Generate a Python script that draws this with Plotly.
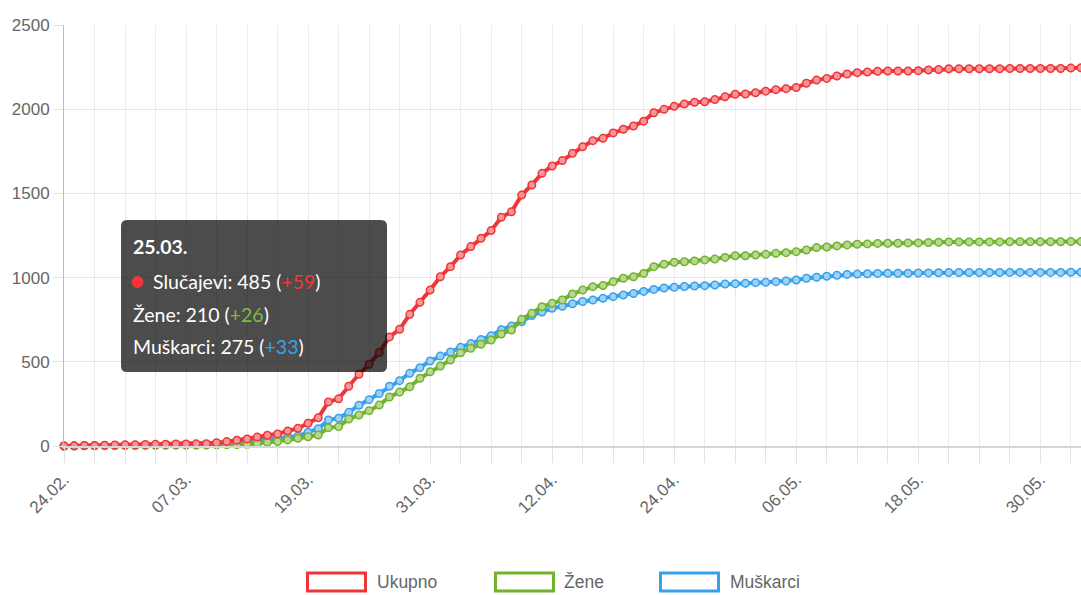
import plotly.graph_objects as go
import pandas as pd

# ---- data ----
dates = pd.date_range("2020-02-24", "2020-06-03", freq="D")

ukupno = [0, 1, 3, 3, 5, 6, 7, 7, 9, 10, 11, 12, 12, 13,
          14, 19, 26, 34, 42, 53, 64, 72, 89, 105, 135, 168, 262, 280, 355, 426, 485,
          555, 648, 693, 782, 853, 926, 1005, 1065, 1134, 1184, 1233, 1279, 1358, 1391, 1490, 1550, 1619, 1663, 1695, 1738,
          1777, 1813, 1827, 1859, 1881, 1900, 1929, 1979, 1999, 2017, 2031, 2041, 2044, 2057, 2074, 2089, 2090, 2098, 2107, 2116,
          2122, 2129, 2154, 2173, 2183, 2197, 2209, 2217, 2221, 2225, 2227, 2227, 2227, 2229, 2233, 2236, 2240, 2240, 2240, 2240,
          2240, 2240, 2242, 2242, 2242, 2242, 2242, 2242, 2244, 2246]

zene = [0, 0, 1, 1, 2, 3, 3, 3, 4, 4, 5, 5, 5, 6,
        6, 7, 8, 9, 10, 15, 22, 26, 36, 46, 55, 65, 109, 115, 160, 184, 210,
        243, 291, 320, 352, 402, 441, 475, 511, 554, 580, 604, 629, 665, 689, 752, 788, 827, 847, 867, 903,
        926, 946, 953, 976, 996, 1005, 1025, 1065, 1079, 1091, 1094, 1099, 1105, 1110, 1120, 1130, 1130, 1134, 1138, 1144,
        1148, 1154, 1164, 1178, 1182, 1188, 1194, 1198, 1200, 1203, 1204, 1204, 1206, 1206, 1208, 1210, 1212, 1212, 1212, 1212,
        1212, 1212, 1213, 1213, 1213, 1213, 1213, 1213, 1214, 1214]

muskarci = [0, 1, 2, 2, 3, 3, 4, 4, 5, 6, 6, 7, 7, 7,
            8, 12, 18, 25, 32, 38, 42, 46, 53, 59, 82, 103, 155, 165, 200, 242, 275,
            312, 355, 388, 432, 465, 505, 534, 558, 586, 608, 632, 655, 690, 712, 738, 775, 796, 818, 830, 845,
            858, 867, 877, 887, 897, 905, 918, 930, 938, 943, 947, 950, 952, 956, 962, 964, 966, 970, 972, 976,
            980, 986, 996, 1002, 1008, 1014, 1019, 1021, 1023, 1025, 1026, 1026, 1026, 1027, 1028, 1029, 1030, 1030, 1030, 1030,
            1030, 1030, 1031, 1031, 1031, 1031, 1031, 1031, 1032, 1032]

series_names = ["Ukupno", "Žene", "Muškarci"]

tooltip_title = "25.03."
tooltip_total = ("Slučajevi", 485, 59)
tooltip_zene = ("Žene", 210, 26)
tooltip_musk = ("Muškarci", 275, 33)

# ---- style ----
RED = "rgb(240,52,56)"
GREEN = "rgb(114,178,46)"
BLUE = "rgb(54,162,235)"
RED_F = "rgb(247,150,152)"
GREEN_F = "rgb(182,216,146)"
BLUE_F = "rgb(160,208,245)"

W, H = 1081, 595
L, R, T, B = 64, 0, 25, 149
PW, PH = W - L - R, H - T - B


def px(x):
    return (x - L) / PW


def py(y):
    return (H - B - y) / PH


fig = go.Figure()
for vals, name, col, fcol in [(muskarci, series_names[2], BLUE, BLUE_F),
                              (zene, series_names[1], GREEN, GREEN_F),
                              (ukupno, series_names[0], RED, RED_F)]:
    fig.add_trace(go.Scatter(
        x=dates, y=vals, name=name, mode="lines+markers",
        line=dict(color=col, width=4),
        marker=dict(size=7.5, color=fcol, line=dict(color=col, width=1.5)),
        cliponaxis=False, showlegend=False))

tick_font = dict(family="Liberation Sans, Arial, sans-serif", size=17, color="#666666")

fig.update_layout(
    width=W, height=H, margin=dict(l=L, r=R, t=T, b=B, pad=0),
    paper_bgcolor="white", plot_bgcolor="white",
    xaxis=dict(
        type="date", range=[dates[0], dates[-1]],
        tick0="2020-02-24", dtick=12 * 86400000, tickformat="%d.%m.",
        tickangle=-45, tickfont=tick_font,
        ticks="outside", ticklen=15, tickcolor="#e3e3e3", tickwidth=1,
        showgrid=True, gridcolor="#ebebeb", gridwidth=1,
        minor=dict(tick0="2020-02-24", dtick=3 * 86400000, ticks="outside", ticklen=15,
                   tickcolor="#e3e3e3", showgrid=True, gridcolor="#ebebeb", gridwidth=1),
        showline=True, linecolor="#d6d6d6", linewidth=2, zeroline=False,
        fixedrange=True),
    yaxis=dict(
        range=[0, 2500], dtick=500, tickfont=tick_font,
        ticks="outside", ticklen=10, tickcolor="#e3e3e3",
        showgrid=True, gridcolor="#e6e6e6", gridwidth=1,
        showline=True, linecolor="#bdbdbd", linewidth=1, zeroline=False,
        fixedrange=True),
    hovermode=False,
)

shapes = []
annotations = []

# ---- tooltip (rounded box) ----
bx0, bx1, by0, by1, rr = 121, 387, 220, 372, 6
X0, X1 = px(bx0), px(bx1)
Y0, Y1 = py(by1), py(by0)
rx, ry = rr / PW, rr / PH
path = (f"M {X0+rx},{Y1} L {X1-rx},{Y1} Q {X1},{Y1} {X1},{Y1-ry} "
        f"L {X1},{Y0+ry} Q {X1},{Y0} {X1-rx},{Y0} L {X0+rx},{Y0} Q {X0},{Y0} {X0},{Y0+ry} "
        f"L {X0},{Y1-ry} Q {X0},{Y1} {X0+rx},{Y1} Z")
shapes.append(dict(type="path", path=path, xref="paper", yref="paper",
                   fillcolor="rgba(0,0,0,0.7)", line=dict(width=0), layer="above"))
shapes.append(dict(type="circle", xref="paper", yref="paper",
                   x0=px(131.5), x1=px(143.5), y0=py(288), y1=py(276),
                   fillcolor=RED, line=dict(width=0), layer="above"))

tip_font = dict(family="Lato, Open Sans, sans-serif", size=19.5, color="white")
annotations.append(dict(text=f"<b>{tooltip_title}</b>", x=px(131), y=py(246.5),
                        xref="paper", yref="paper", xanchor="left", yanchor="middle",
                        showarrow=False, font=tip_font))
for (lab, v, d), xx, yy, c in [(tooltip_total, 150.5, 281.5, "rgb(242,58,58)"),
                               (tooltip_zene, 131, 314, "rgb(124,190,52)"),
                               (tooltip_musk, 131, 346.5, "rgb(54,162,235)")]:
    annotations.append(dict(
        text=f"{lab}: {v} (<span style='color:{c}'>+{d}</span>)",
        x=px(xx), y=py(yy), xref="paper", yref="paper",
        xanchor="left", yanchor="middle", showarrow=False, font=tip_font))

# ---- custom legend ----
leg_font = dict(family="Liberation Sans, Arial, sans-serif", size=17.5, color="#666666")
for name, col, x0, x1, tx in [(series_names[0], RED, 306, 367, 375),
                              (series_names[1], GREEN, 494, 555, 562),
                              (series_names[2], BLUE, 659, 720, 728)]:
    shapes.append(dict(type="rect", xref="paper", yref="paper",
                       x0=px(x0 + 1.5), x1=px(x1 - 1.5), y0=py(591), y1=py(573),
                       fillcolor="white", line=dict(color=col, width=3)))
    annotations.append(dict(text=name, x=px(tx), y=py(582), xref="paper", yref="paper",
                            xanchor="left", yanchor="middle", showarrow=False, font=leg_font))

fig.update_layout(shapes=shapes, annotations=annotations)
fig.write_html("out.html", config={"displayModeBar": False},
               post_script="document.body.style.margin='0';document.body.style.overflow='hidden';")
